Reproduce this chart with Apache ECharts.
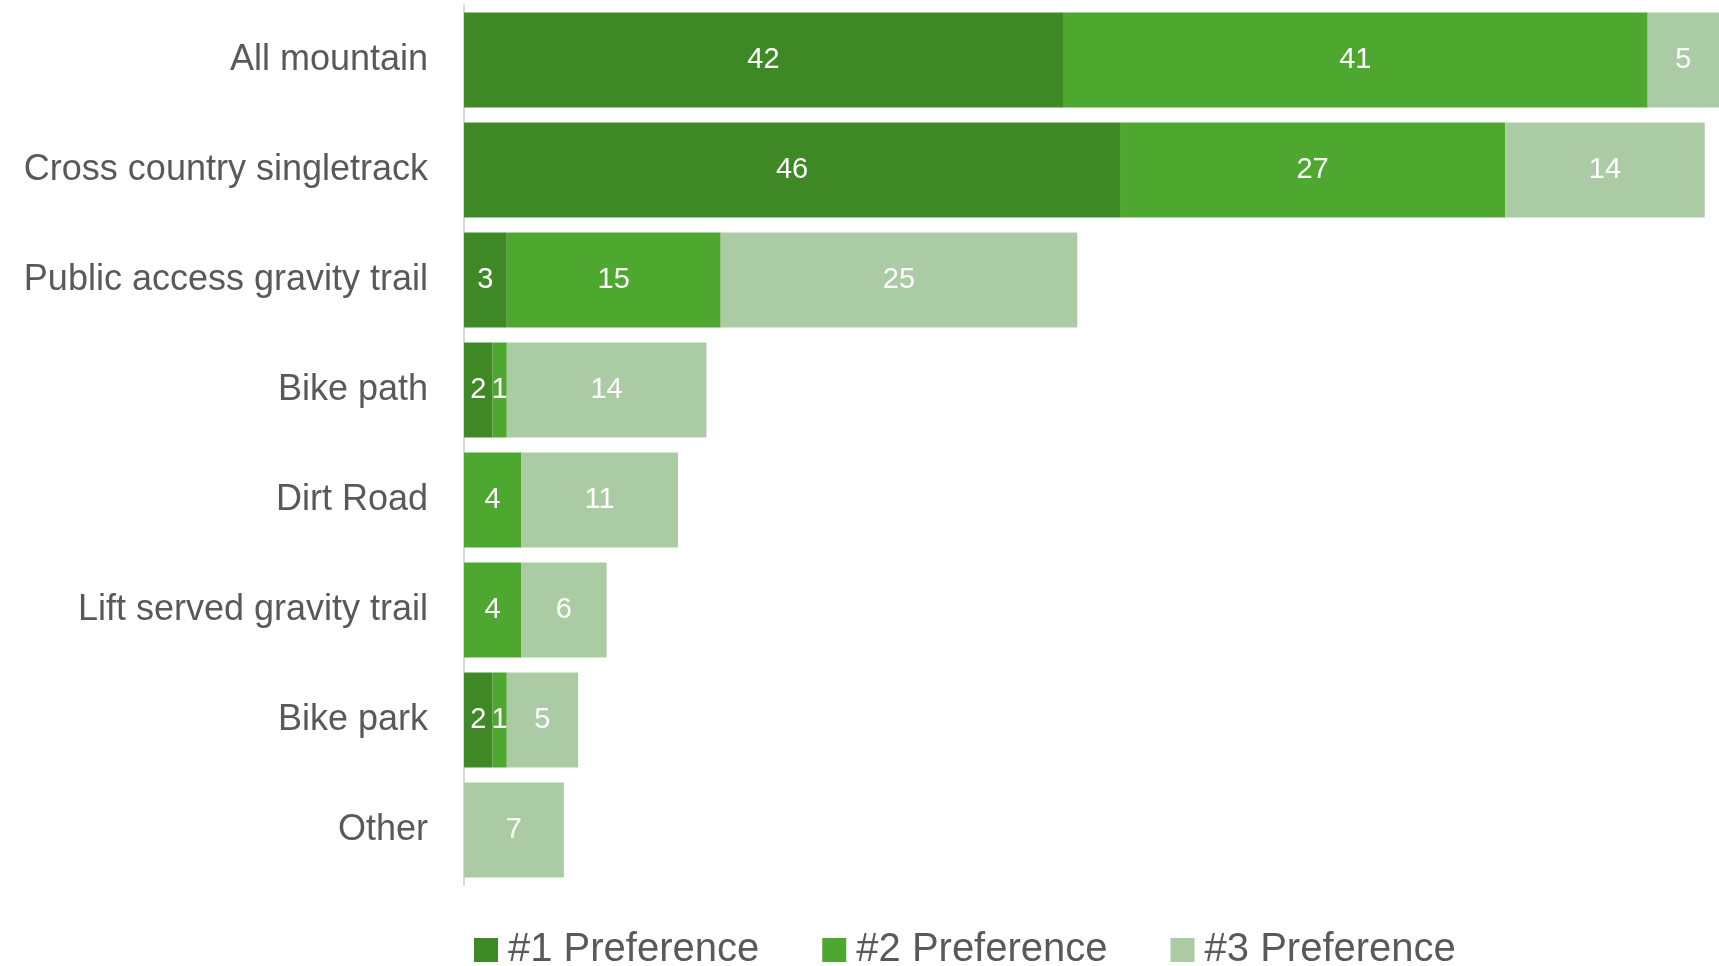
<!DOCTYPE html>
<html>
<head>
<meta charset="utf-8">
<script src="https://cdn.jsdelivr.net/npm/echarts@6/dist/echarts.min.js"></script>
<style>html,body{margin:0;padding:0;background:#fff;}#c{width:1719px;height:966px;}</style>
</head>
<body>
<div id="c"></div>
<script>
const categories = ["All mountain","Cross country singletrack","Public access gravity trail","Bike path","Dirt Road","Lift served gravity trail","Bike park","Other"];
const seriesNames = ["#1 Preference","#2 Preference","#3 Preference"];
const pref1 = [42, 46, 3, 2, 0, 0, 2, 0];
const pref2 = [41, 27, 15, 1, 4, 4, 1, 0];
const pref3 = [5, 14, 25, 14, 11, 6, 5, 7];
const colors = ["#3E8925", "#4EA72E", "#ABCBA4"];

const FONT = "'Liberation Sans', Arial, sans-serif";
function mk(name, vals, color) {
  return {
    name: name, type: 'bar', stack: 'total',
    barCategoryGap: '13.5%',
    itemStyle: { color: color },
    label: {
      show: true, position: 'inside', color: '#fff',
      fontFamily: FONT, fontSize: 29,
      formatter: p => (p.value ? String(p.value) : '')
    },
    data: vals
  };
}
const chart = echarts.init(document.getElementById('c'), null, {renderer: 'canvas'});
chart.setOption({
  animation: false,
  backgroundColor: '#fff',
  grid: { left: 464, right: 0, top: 5, height: 880, containLabel: false, outerBoundsMode: 'none' },
  xAxis: { type: 'value', min: 0, max: 88, show: false, splitLine: { show: false } },
  yAxis: {
    type: 'category', data: categories, inverse: true,
    axisLine: { show: true, lineStyle: { color: '#D9D9D9', width: 2 } },
    axisTick: { show: false },
    axisLabel: { color: '#595959', fontFamily: FONT, fontSize: 36, margin: 36 }
  },
  legend: {
    top: 925, left: 469,
    itemWidth: 24, itemHeight: 24, itemGap: 63,
    icon: 'rect',
    textStyle: { color: '#595959', fontFamily: FONT, fontSize: 40, padding: [0, 0, 0, 5] },
    data: seriesNames
  },
  series: [mk(seriesNames[0], pref1, colors[0]), mk(seriesNames[1], pref2, colors[1]), mk(seriesNames[2], pref3, colors[2])]
});
</script>
</body>
</html>
